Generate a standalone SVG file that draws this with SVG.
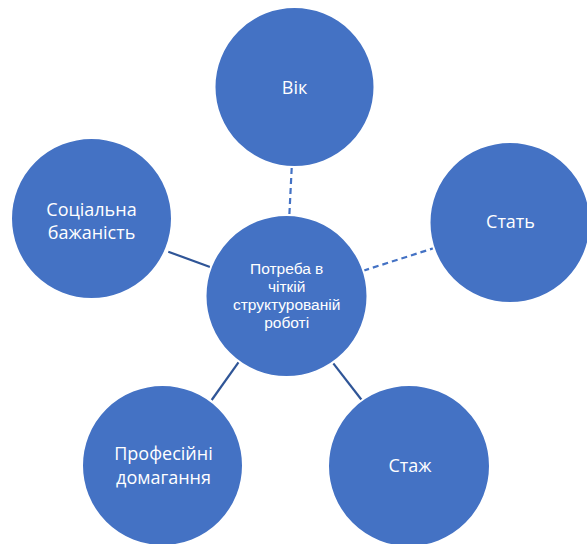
<svg xmlns="http://www.w3.org/2000/svg" width="587" height="544" viewBox="0 0 587 544">
<style>
.node circle{fill:#4472C4;stroke:#ffffff;stroke-width:2}
.node text{fill:#ffffff;font-family:"Open Sans","Noto Sans",sans-serif;text-anchor:middle}
.big{font-size:18px}
.node text.small{font-family:"Liberation Sans",Arial,sans-serif;font-size:15.5px}
.solid{stroke:#2F5597;stroke-width:2.2;fill:none}
.dash{stroke:#4472C4;stroke-width:2.2;stroke-dasharray:6 4;fill:none}
</style>
<rect width="587" height="544" fill="#ffffff"/>
<g id="connectors">
<line class="dash" x1="291.7" y1="168" x2="289.3" y2="216"/>
<line class="dash" x1="363.3" y1="270.7" x2="433.3" y2="248.3"/>
<line class="solid" x1="168.3" y1="251.7" x2="210.7" y2="267.3"/>
<line class="solid" x1="211.7" y1="400" x2="239" y2="361.7"/>
<line class="solid" x1="361.7" y1="400" x2="333.3" y2="363.3"/>
</g>
<g id="vik" class="node">
<circle cx="294.5" cy="87" r="80"/>
<text class="big" x="294.5" y="94">Вік</text>
</g>
<g id="sotsialna" class="node">
<circle cx="91.5" cy="218.5" r="80.5"/>
<text class="big" x="91.5" y="216">Соціальна</text>
<text class="big" x="91.5" y="239">бажаність</text>
</g>
<g id="stat" class="node">
<circle cx="510" cy="222.5" r="80.5"/>
<text class="big" x="510.5" y="228">Стать</text>
</g>
<g id="center" class="node">
<circle cx="286.5" cy="296" r="81"/>
<text class="small" x="286.7" y="274">Потреба в</text>
<text class="small" x="286.7" y="292">чіткій</text>
<text class="small" x="286.7" y="310">структурованій</text>
<text class="small" x="286.7" y="328">роботі</text>
</g>
<g id="profesiini" class="node">
<circle cx="162.5" cy="465.5" r="80.5"/>
<text class="big" x="163.5" y="460">Професійні</text>
<text class="big" x="163.5" y="484">домагання</text>
</g>
<g id="stazh" class="node">
<circle cx="409" cy="466" r="81"/>
<text class="big" x="410" y="472">Стаж</text>
</g>
</svg>
